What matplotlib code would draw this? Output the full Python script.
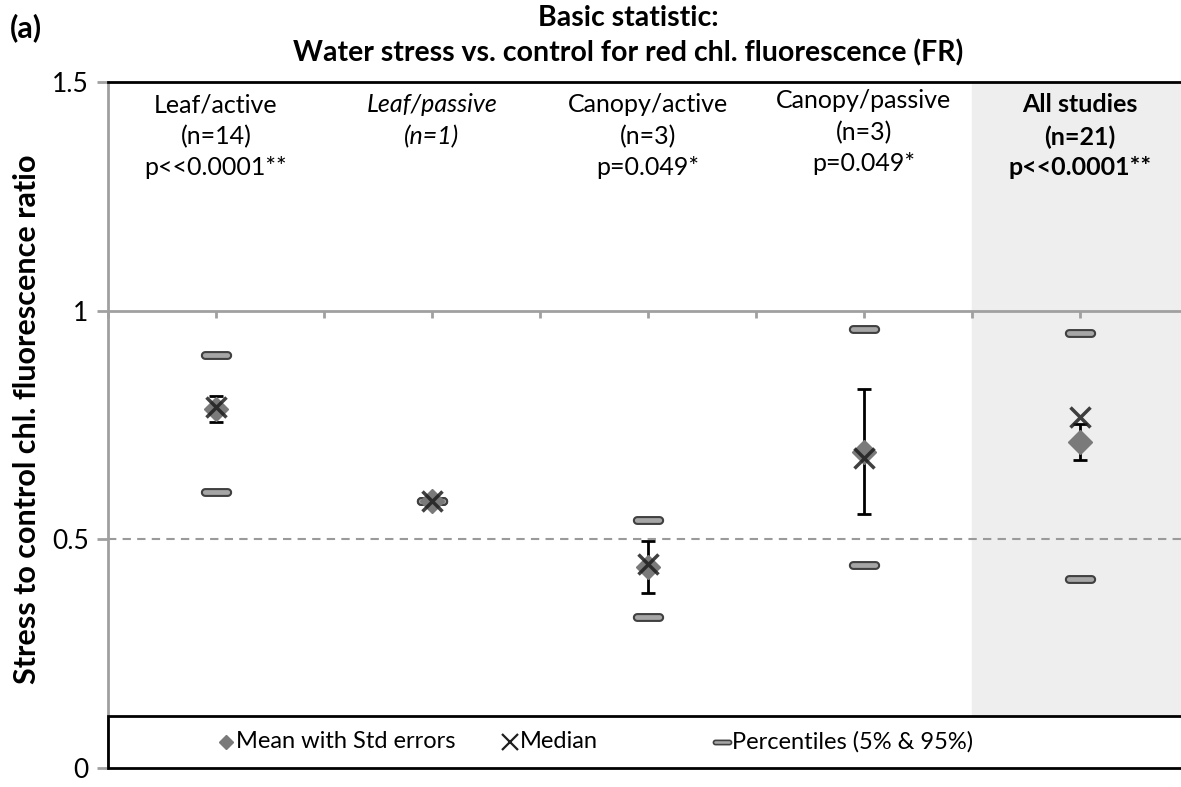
import numpy as np
import matplotlib
matplotlib.use("Agg")
import matplotlib.pyplot as plt
from matplotlib.path import Path
from matplotlib.patches import Rectangle

plt.rcParams['font.family'] = ['Lato', 'DejaVu Sans']

# per-group statistics
categories = ['Leaf/active', 'Leaf/passive', 'Canopy/active', 'Canopy/passive', 'All studies']
x_pos = [1, 3, 5, 7, 9]
n_studies = [14, 1, 3, 3, 21]
p_labels = ['p<<0.0001**', '', 'p=0.049*', 'p=0.049*', 'p<<0.0001**']
mean_vals = [0.785, 0.583, 0.44, 0.692, 0.713]
std_err = [0.028, 0.0, 0.057, 0.136, 0.04]
median_vals = [0.79, 0.583, 0.445, 0.678, 0.768]
p5_vals = [0.604, 0.583, 0.33, 0.443, 0.413]
p95_vals = [0.903, 0.583, 0.542, 0.96, 0.951]

# rounded-bar marker for the percentiles
t = np.linspace(-np.pi / 2, np.pi / 2, 10)
r = 0.35
right = np.column_stack([1.15 + r * np.cos(t), r * np.sin(t)])
left = np.column_stack([-1.15 - r * np.cos(t), -r * np.sin(t)])
pill = Path(np.vstack([right, left, right[:1]]), closed=True)

fig = plt.figure(figsize=(11.81, 7.87), dpi=100)
ax = fig.add_axes([108 / 1181, 19 / 787, 1080 / 1181, 686 / 787])
ax.set_xlim(0, 10)
ax.set_ylim(0, 1.5)

# shaded "All studies" column
ax.axvspan(8, 10, color='#eeeeee', zorder=0)
ax.axhline(0.5, color='#9a9a9a', lw=1.5, ls=(0, (4, 3)), zorder=1)

# percentiles
ax.plot(x_pos, p95_vals, ls='none', marker=pill, ms=21, mfc='#a6a6a6',
        mec='#404040', mew=1.5, zorder=3)
ax.plot(x_pos, p5_vals, ls='none', marker=pill, ms=21, mfc='#a6a6a6',
        mec='#404040', mew=1.5, zorder=3)

# mean with std errors
ax.errorbar(x_pos, mean_vals, yerr=std_err, fmt='none', ecolor='black',
            elinewidth=2, capsize=5, capthick=2, zorder=4)
ax.plot(x_pos, mean_vals, ls='none', marker='D', ms=12, mfc='#7a7a7a',
        mec='#7a7a7a', zorder=5)

# median
ax.plot(x_pos, median_vals, ls='none', marker='x', ms=15, mec='#1e1e1e',
        mew=2.5, alpha=0.85, zorder=6)

# group labels
for i, x in enumerate(x_pos):
    style = 'italic' if n_studies[i] == 1 else 'normal'
    weight = 'bold' if categories[i] == 'All studies' else 'normal'
    dy = 0.01 if categories[i] == 'Canopy/passive' else 0
    ax.text(x, 1.45 + dy, categories[i], ha='center', va='center', fontsize=18,
            style=style, weight=weight)
    ax.text(x, 1.38 + dy, f'(n={n_studies[i]})', ha='center', va='center',
            fontsize=18, style=style, weight=weight)
    if p_labels[i]:
        ax.text(x, 1.312 + dy, p_labels[i], ha='center', va='center',
                fontsize=18, weight=weight)

# axes styling: x axis crosses at 1
ax.spines['bottom'].set_position(('data', 1))
ax.spines['bottom'].set_color('#a0a0a0')
ax.spines['bottom'].set_linewidth(2)
ax.spines['left'].set_color('#a0a0a0')
ax.spines['left'].set_linewidth(2)
ax.spines['top'].set_color('black')
ax.spines['top'].set_linewidth(2)
ax.spines['right'].set_visible(False)
ax.set_xticks(range(0, 11))
ax.tick_params(axis='x', length=5, width=2, color='#a0a0a0', labelbottom=False)
ax.set_yticks([0, 0.5, 1, 1.5])
ax.set_yticklabels(['0', '0.5', '1', '1.5'])
ax.tick_params(axis='y', length=8, width=2, color='#a0a0a0', labelsize=19, pad=6)
ax.set_ylabel('Stress to control chl. fluorescence ratio', fontsize=22,
              weight='bold')
ax.yaxis.set_label_coords(-0.062, 0.508)

# legend box at the bottom
box_h = 52 / 686
ax.add_patch(Rectangle((0, 0), 1, box_h, transform=ax.transAxes, facecolor='white',
                       edgecolor='black', lw=2, zorder=7, clip_on=False))
yc = box_h / 2
leg_items = [
    (226, 'Mean with Std errors', dict(marker='D', ms=7, mfc='#7a7a7a', mec='#7a7a7a')),
    (510, 'Median', dict(marker='x', ms=12, mec='#1e1e1e', mew=1.6)),
    (722, 'Percentiles (5% & 95%)', dict(marker=pill, ms=13, mfc='#a6a6a6',
                                          mec='#404040', mew=1.2)),
]
for px, label, kw in leg_items:
    xa = (px - 108) / 1080
    ax.plot([xa], [yc], ls='none', transform=ax.transAxes, clip_on=False,
            zorder=8, **kw)
    ax.text(xa + 10 / 1080, yc, label, transform=ax.transAxes, fontsize=17,
            ha='left', va='center', zorder=8)

fig.text(10 / 1181, 1 - 28 / 787, '(a)', fontsize=22, weight='bold', va='center')
fig.text(628 / 1181, 1 - 18 / 787, 'Basic statistic:', fontsize=20.5, weight='bold',
         ha='center', va='center')
fig.text(628 / 1181, 1 - 53 / 787,
         'Water stress vs. control for red chl. fluorescence (FR)', fontsize=20.5,
         weight='bold', ha='center', va='center')

fig.savefig('out.png', dpi=100)
